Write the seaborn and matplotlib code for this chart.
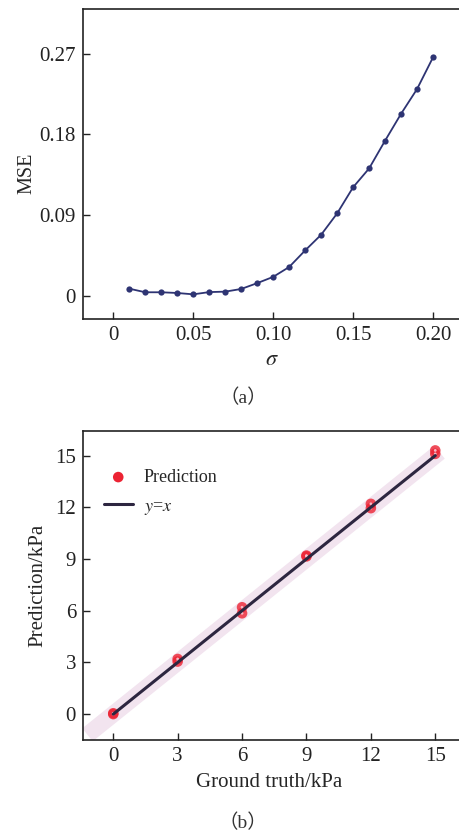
import numpy as np
import pandas as pd
import matplotlib
matplotlib.use("Agg")
import matplotlib.pyplot as plt
import seaborn as sns

# ---- data: panel (a)
sigma = [0.01, 0.02, 0.03, 0.04, 0.05, 0.06, 0.07, 0.08, 0.09, 0.10,
         0.11, 0.12, 0.13, 0.14, 0.15, 0.16, 0.17, 0.18, 0.19, 0.20]
mse = [0.0078, 0.0038, 0.0038, 0.0030, 0.0015, 0.0040, 0.0045, 0.0075, 0.0140, 0.0210,
       0.0320, 0.0505, 0.0680, 0.0918, 0.1210, 0.1420, 0.1730, 0.2030, 0.2306, 0.2660]
a_xticks = [0, 0.05, 0.10, 0.15, 0.20]
a_xticklabels = ["0", "0.05", "0.10", "0.15", "0.20"]
a_yticks = [0, 0.09, 0.18, 0.27]
a_yticklabels = ["0", "0.09", "0.18", "0.27"]

# ---- data: panel (b)
truth = [0, 0, 3, 3, 6, 6, 9, 9, 12, 12, 15, 15]
pred = [0.0, 0.05, 3.05, 3.2, 5.85, 6.2, 9.15, 9.2, 11.95, 12.2, 15.1, 15.3]
ident = [0, 15]
band = [-1.2, 15.2]
b_ticks = [0, 3, 6, 9, 12, 15]

sns.set_theme(style="ticks")
plt.rcParams["font.family"] = ["Liberation Serif", "Noto Sans CJK SC"]
plt.rcParams["mathtext.fontset"] = "stix"
plt.rcParams["xtick.direction"] = "in"
plt.rcParams["ytick.direction"] = "in"

fig = plt.figure(figsize=(4.6, 8.35), dpi=100)

# ---------------- panel (a)
ax1 = fig.add_axes([0.1804, 0.6180, 0.8304, 0.3712])
df_a = pd.DataFrame({"sigma": sigma, "mse": mse})
sns.lineplot(data=df_a, x="sigma", y="mse", ax=ax1, color="#2e3473", lw=1.3,
             marker="o", markersize=4.5, markeredgewidth=0, markerfacecolor="#2e3473")
ax1.set_xlim(-0.019, 0.22)
ax1.set_ylim(-0.026, 0.32)
ax1.set_xticks(a_xticks)
ax1.set_xticklabels(a_xticklabels)
ax1.set_yticks(a_yticks)
ax1.set_yticklabels(a_yticklabels)
ax1.set_xlabel(r"$\sigma$", fontsize=16)
ax1.set_ylabel("MSE", fontsize=14.5)
ax1.xaxis.set_label_coords(0.495, -0.135)
ax1.xaxis.label.set_va("center")
ax1.yaxis.set_label_coords(-0.148, 0.47)
ax1.yaxis.label.set_va("center")

# ---------------- panel (b)
ax2 = fig.add_axes([0.1804, 0.1138, 0.8265, 0.3701])
ax2.plot(band, band, color="#f2e4ef", lw=12, solid_capstyle="butt", zorder=1)
df_b = pd.DataFrame({"truth": truth, "pred": pred})
sns.scatterplot(data=df_b, x="truth", y="pred", ax=ax2, color="#ec2333", s=58,
                edgecolor="none", alpha=0.8, zorder=3, label="Prediction")
sns.scatterplot(data=df_b, x="truth", y="pred", ax=ax2, color="#f9c8d4", s=4,
                edgecolor="none", alpha=0.9, zorder=4, legend=False)
df_line = pd.DataFrame({"x": ident, "y": ident})
sns.lineplot(data=df_line, x="x", y="y", ax=ax2, color="#2d2640", lw=2.2,
             zorder=5, label=r"$y$=$x$")
ax2.set_xlim(-1.41, 16.3)
ax2.set_ylim(-1.5, 16.43)
ax2.set_xticks(b_ticks)
ax2.set_yticks(b_ticks)
ax2.set_xlabel("Ground truth/kPa", fontsize=15)
ax2.set_ylabel("Prediction/kPa", fontsize=15)
ax2.xaxis.set_label_coords(0.489, -0.137)
ax2.xaxis.label.set_va("center")
ax2.yaxis.set_label_coords(-0.118, 0.50)
ax2.yaxis.label.set_va("center")
leg = ax2.legend(loc="upper left", bbox_to_anchor=(0.012, 0.93), frameon=False,
                 fontsize=13, handlelength=1.6, handletextpad=0.6, labelspacing=0.65)
leg.legend_handles[0].set_alpha(1.0)

for ax in (ax1, ax2):
    for s in ax.spines.values():
        s.set_linewidth(1.2)
        s.set_color("#222222")
    ax.tick_params(axis="both", labelsize=15, length=5, width=1.0, color="#222222",
                   labelcolor="#222222", pad=5)

fig.text(243 / 460, 1 - 398 / 835, "（a）", ha="center", va="center", fontsize=14,
         family=["Liberation Serif", "Noto Sans CJK SC"], color="#333333")
fig.text(243 / 460, 1 - 823 / 835, "（b）", ha="center", va="center", fontsize=14,
         family=["Liberation Serif", "Noto Sans CJK SC"], color="#333333")

fig.savefig("out.png", dpi=100)
